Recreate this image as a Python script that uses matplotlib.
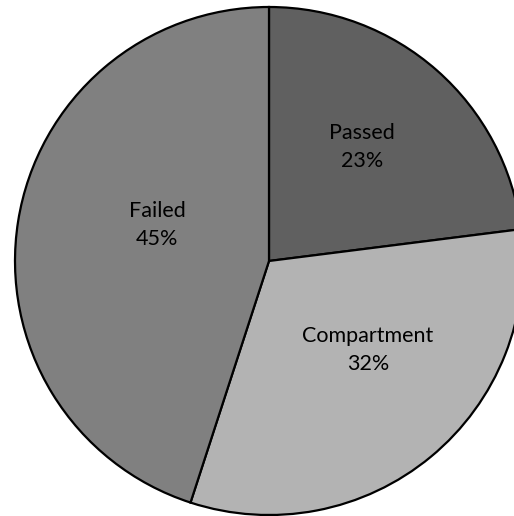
import matplotlib
matplotlib.use("Agg")
import matplotlib.pyplot as plt

categories = ["Passed", "Compartment", "Failed"]
values = [23, 32, 45]
colors = ["#606060", "#b3b3b3", "#808080"]
# label anchor offsets (fraction of radius, layout only)
label_pos = [(0.366, 0.45), (0.39, -0.35), (-0.44, 0.14)]

W, H = 514, 516
cx, cy, R = 269, 261, 254

fig = plt.figure(figsize=(W / 100, H / 100), dpi=100)
ax = fig.add_axes([0, 0, 1, 1])
ax.pie(values, colors=colors, startangle=90, counterclock=False, radius=1,
       wedgeprops=dict(edgecolor="black", linewidth=1.6))
ax.set_xlim(-cx / R, (W - cx) / R)
ax.set_ylim(-(H - cy) / R, cy / R)
ax.set_aspect("equal")
ax.axis("off")

for cat, v, (x, y) in zip(categories, values, label_pos):
    ax.text(x, y, f"{cat}\n{v}%", ha="center", va="center", fontsize=15.5,
            family="Lato", color="black", linespacing=1.5)

fig.savefig("out.png", dpi=100)
